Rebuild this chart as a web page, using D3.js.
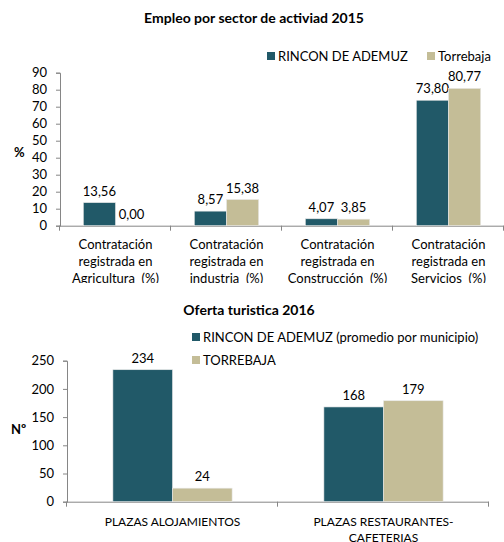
<!DOCTYPE html>
<html>
<head>
<meta charset="utf-8">
<script src="https://cdn.jsdelivr.net/npm/d3@7"></script>
<style>
  body { margin: 0; background: #fff; }
  svg { font-family: Lato, "Open Sans", sans-serif; }
  text { white-space: pre; }
</style>
</head>
<body>
<div class="canvas"></div>
<script>
// chart 1 data
const sectors = ['Contratación\nregistrada en\nAgricultura  (%)', 'Contratación\nregistrada en\nindustria  (%)',
                 'Contratación\nregistrada en\nConstrucción  (%)', 'Contratación\nregistrada en\nServicios  (%)'];
const rinconEmpleo = [13.56, 8.57, 4.07, 73.80];
const torrebajaEmpleo = [0.00, 15.38, 3.85, 80.77];
const empleoTicks = [0, 10, 20, 30, 40, 50, 60, 70, 80, 90];

// chart 2 data
const plazas = ['PLAZAS ALOJAMIENTOS', 'PLAZAS RESTAURANTES-\nCAFETERIAS'];
const rinconTur = [234, 168];
const torrebajaTur = [24, 179];
const turTicks = [0, 50, 100, 150, 200, 250];

const dark = '#215968';
const tan = '#c4bd97';
const axisGrey = '#868686';

const svg = d3.select('.canvas').append('svg')
    .attr('width', 504)
    .attr('height', 542);

svg.append('clipPath').attr('id', 'clip1')
    .append('rect').attr('x', 0).attr('y', 0).attr('width', 504).attr('height', 283);

const fmt = v => d3.format('.2f')(v).replace('.', ',');

function drawChart(g, opts) {
    const x = d3.scaleBand().domain(d3.range(opts.cats.length))
        .range([opts.left, opts.right]).paddingInner(opts.pad).paddingOuter(opts.pad / 2);
    const x1 = d3.scaleBand().domain([0, 1]).range([0, x.bandwidth()]);
    const y = d3.scaleLinear().domain(opts.domain).range([opts.bottom, opts.top]);

    // y axis
    const yAxis = g.append('g')
        .attr('transform', `translate(${opts.left},0)`)
        .call(d3.axisLeft(y).tickValues(opts.ticks).tickSize(4).tickPadding(9));
    yAxis.selectAll('line, path').attr('stroke', axisGrey);
    yAxis.selectAll('text').attr('font-size', 13).attr('fill', '#000').attr('font-family', 'Lato');

    // x axis with ticks at category borders
    const xAxisG = g.append('g');
    xAxisG.append('line')
        .attr('x1', opts.left).attr('x2', opts.right)
        .attr('y1', opts.bottom + 0.5).attr('y2', opts.bottom + 0.5)
        .attr('stroke', axisGrey);
    const step = x.step();
    xAxisG.selectAll('.tk').data(d3.range(opts.cats.length + 1)).join('line')
        .attr('x1', i => Math.round(opts.left + i * step) - 0.5)
        .attr('x2', i => Math.round(opts.left + i * step) - 0.5)
        .attr('y1', opts.bottom).attr('y2', opts.bottom + 5)
        .attr('stroke', axisGrey);

    const series = [opts.s1, opts.s2];
    const colors = [dark, tan];
    series.forEach((s, si) => {
        g.append('g').selectAll('rect').data(s).join('rect')
            .attr('x', (d, i) => x(i) + x1(si))
            .attr('y', d => y(d))
            .attr('width', x1.bandwidth())
            .attr('height', d => y(0) - y(d))
            .attr('fill', colors[si])
            .attr('stroke', '#e8e8e8')
            .attr('stroke-width', 0.6);
        g.append('g').selectAll('text').data(s).join('text')
            .attr('x', (d, i) => x(i) + x1(si) + x1.bandwidth() / 2)
            .attr('y', d => y(d) - 7)
            .attr('text-anchor', 'middle')
            .attr('font-size', 13)
            .text(opts.fmt);
    });

    // category labels
    const lab = g.append('g').selectAll('text').data(opts.cats).join('text')
        .attr('text-anchor', 'middle')
        .attr('font-size', opts.catSize);
    lab.each(function(d, i) {
        d3.select(this).selectAll('tspan').data(d.split('\n')).join('tspan')
            .attr('x', x(i) + x.bandwidth() / 2)
            .attr('y', (t, j) => opts.bottom + opts.labelY + j * opts.lineH)
            .text(t => t);
    });

    // title and y label
    g.append('text').attr('x', opts.titleX).attr('y', opts.titleY)
        .attr('text-anchor', 'middle').attr('font-weight', 'bold').attr('font-size', 14)
        .text(opts.title);
    g.append('text').attr('x', opts.yLabX).attr('y', opts.yLabY)
        .attr('font-weight', 'bold').attr('font-size', 13)
        .text(opts.yLab);

    // legend
    const leg = g.append('g').selectAll('g').data(opts.legend).join('g')
        .attr('transform', d => `translate(${d.x},${d.y})`);
    leg.append('rect').attr('x', 0).attr('y', -4).attr('width', 8).attr('height', 8)
        .attr('fill', (d, i) => colors[i]);
    leg.append('text').attr('x', 11).attr('y', 5).attr('font-size', 13).text(d => d.name);
}

drawChart(svg.append('g').attr('clip-path', 'url(#clip1)'), {
    cats: sectors, s1: rinconEmpleo, s2: torrebajaEmpleo, ticks: empleoTicks,
    domain: [0, 90], left: 60, right: 504, top: 72.7, bottom: 225.7, pad: 0.42,
    fmt: fmt, catSize: 13, labelY: 23, lineH: 17,
    title: 'Empleo por sector de activiad 2015', titleX: 254, titleY: 23,
    yLab: '%', yLabX: 14, yLabY: 157,
    legend: [{name: 'RINCON DE ADEMUZ', x: 267, y: 56}, {name: 'Torrebaja', x: 427, y: 56}]
});

drawChart(svg.append('g'), {
    cats: plazas, s1: rinconTur, s2: torrebajaTur, ticks: turTicks,
    domain: [0, 250], left: 67, right: 489, top: 360.7, bottom: 501.7, pad: 0.435,
    fmt: d => d, catSize: 12, labelY: 24, lineH: 16,
    title: 'Oferta turistica 2016', titleX: 249, titleY: 315,
    yLab: 'Nº', yLabX: 11, yLabY: 434,
    legend: [{name: 'RINCON DE ADEMUZ (promedio por municipio)', x: 192, y: 337},
             {name: 'TORREBAJA', x: 192, y: 360}]
});
</script>
</body>
</html>
